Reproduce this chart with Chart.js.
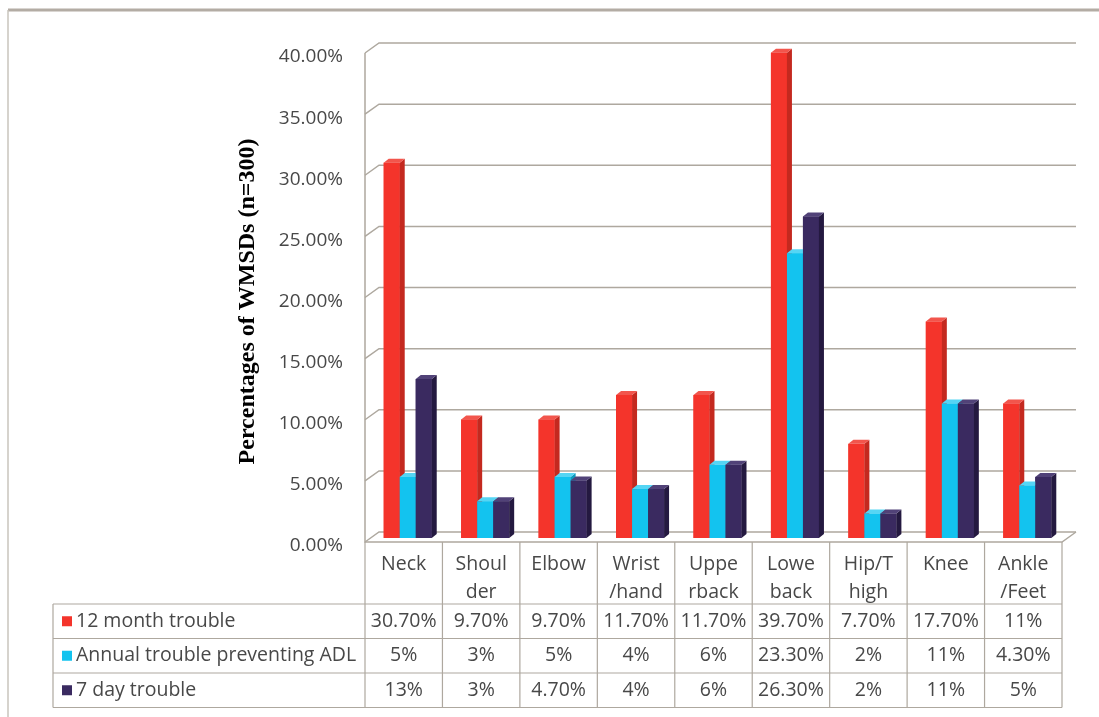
<!DOCTYPE html>
<html>
<head>
<meta charset="utf-8">
<script src="https://cdn.jsdelivr.net/npm/chart.js@4.4.1/dist/chart.umd.min.js"></script>
<style>
    html, body { margin: 0; padding: 0; background: #fff; }
    #caixa { width: 1099px; height: 717px; }
</style>
</head>
<body>
<div id="caixa"><canvas id="grafico" width="1099" height="717"></canvas></div>
<script>
// dados
const categorias = [["Neck"], ["Shoul", "der"], ["Elbow"], ["Wrist", "/hand"], ["Uppe", "rback"], ["Lowe", "back"], ["Hip/T", "high"], ["Knee"], ["Ankle", "/Feet"]]
const mes12 = [30.7, 9.7, 9.7, 11.7, 11.7, 39.7, 7.7, 17.7, 11]
const anualADL = [5, 3, 5, 4, 6, 23.3, 2, 11, 4.3]
const dias7 = [13, 3, 4.7, 4, 6, 26.3, 2, 11, 5]
const nomesSeries = ["12 month trouble", "Annual trouble preventing ADL", "7 day trouble"]
const ticksY = [0, 5, 10, 15, 20, 25, 30, 35, 40]

const cores = [
    { frente: '#f4342b', lado: '#c4291f', topo: '#f2554c' },
    { frente: '#13c3ef', lado: '#0d98bd', topo: '#55d5f4' },
    { frente: '#3a2a60', lado: '#241940', topo: '#514278' }
]
const corTexto = '#484848'
const corGrade = '#aea89f'
const fonteTexto = '19.5px "Open Sans"'

// deslocamento do efeito 3D
const fundoDx = 14, fundoDy = -10
const barraDx = 4, barraDy = -8
const ladoDx = 5, ladoDy = -4

function formataValor(v) {
    return Number.isInteger(v) ? v + '%' : v.toFixed(2) + '%'
}

function frenteY(escala, v) {
    return escala.getPixelForValue(v) - 4
}

const fundo3d = {
    id: 'fundo3d',
    beforeDraw(chart) {
        const ctx = chart.ctx
        const area = chart.chartArea
        const y = chart.scales.y
        ctx.save()
        // moldura da figura
        ctx.strokeStyle = '#b3aca4'
        ctx.lineWidth = 3
        ctx.beginPath()
        ctx.moveTo(8, 10)
        ctx.lineTo(1099, 10)
        ctx.stroke()
        ctx.strokeStyle = '#c9c4bc'
        ctx.lineWidth = 1.5
        ctx.beginPath()
        ctx.moveTo(8, 10)
        ctx.lineTo(8, 717)
        ctx.stroke()

        ctx.strokeStyle = corGrade
        ctx.lineWidth = 1.5
        ticksY.forEach((v) => {
            const yf = frenteY(y, v)
            ctx.beginPath()
            ctx.moveTo(area.left, yf)
            ctx.lineTo(area.left + fundoDx, yf + fundoDy)
            ctx.lineTo(area.right + fundoDx, yf + fundoDy)
            ctx.stroke()
        })
        // parede esquerda e piso
        const y0 = frenteY(y, 0)
        ctx.beginPath()
        ctx.moveTo(area.left, frenteY(y, 40))
        ctx.lineTo(area.left, y0)
        ctx.lineTo(area.right, y0)
        ctx.lineTo(area.right + fundoDx, y0 + fundoDy)
        ctx.stroke()
        ctx.restore()
    },
    beforeDatasetsDraw(chart) {
        chart.ctx.save()
        chart.ctx.translate(barraDx, barraDy)
    },
    afterDatasetsDraw(chart) {
        const ctx = chart.ctx
        chart.data.datasets.forEach((ds, d) => {
            const meta = chart.getDatasetMeta(d)
            const c = cores[d]
            meta.data.forEach((el) => {
                const p = el.getProps(['x', 'y', 'base', 'width'], true)
                const esq = p.x - p.width / 2
                const dir = p.x + p.width / 2
                ctx.fillStyle = c.frente
                ctx.fillRect(esq, p.y, p.width, p.base - p.y)
                ctx.fillStyle = c.lado
                ctx.beginPath()
                ctx.moveTo(dir, p.y)
                ctx.lineTo(dir + ladoDx, p.y + ladoDy)
                ctx.lineTo(dir + ladoDx, p.base + ladoDy)
                ctx.lineTo(dir, p.base)
                ctx.closePath()
                ctx.fill()
                ctx.fillStyle = c.topo
                ctx.beginPath()
                ctx.moveTo(esq, p.y)
                ctx.lineTo(dir, p.y)
                ctx.lineTo(dir + ladoDx, p.y + ladoDy)
                ctx.lineTo(esq + ladoDx, p.y + ladoDy)
                ctx.closePath()
                ctx.fill()
            })
        })
        ctx.restore()
    },
    afterDraw(chart) {
        // tabela de dados embaixo do grafico
        const ctx = chart.ctx
        const area = chart.chartArea
        const x = chart.scales.x
        const y = chart.scales.y
        const larg = (area.right - area.left) / categorias.length
        const topo = frenteY(y, 0)
        const linhas = [604, 638.5, 673, 707.5]
        const tabEsq = 53
        const series = [mes12, anualADL, dias7]

        ctx.save()
        ctx.strokeStyle = corGrade
        ctx.lineWidth = 1.2
        ctx.beginPath()
        for (let i = 0; i <= categorias.length; i++) {
            const xl = area.left + i * larg
            ctx.moveTo(xl, topo)
            ctx.lineTo(xl, linhas[3])
        }
        linhas.forEach((yl) => {
            ctx.moveTo(tabEsq, yl)
            ctx.lineTo(area.right, yl)
        })
        ctx.moveTo(tabEsq, linhas[0])
        ctx.lineTo(tabEsq, linhas[3])
        ctx.stroke()

        ctx.fillStyle = corTexto
        ctx.font = fonteTexto
        ctx.textAlign = 'center'
        ctx.textBaseline = 'middle'
        categorias.forEach((cat, i) => {
            const cx = x.getPixelForValue(i)
            cat.forEach((linha, k) => {
                ctx.fillText(linha, cx, 564 + k * 28)
            })
            series.forEach((s, r) => {
                ctx.fillText(formataValor(s[i]), cx, (linhas[r] + linhas[r + 1]) / 2)
            })
        })
        ctx.textAlign = 'left'
        nomesSeries.forEach((nome, r) => {
            const cy = (linhas[r] + linhas[r + 1]) / 2
            ctx.fillStyle = cores[r].frente
            ctx.fillRect(62, cy - 5, 10, 10)
            ctx.fillStyle = corTexto
            ctx.fillText(nome, 76, cy)
        })
        ctx.restore()
    }
}

const grafico = new Chart(document.getElementById('grafico'), {
    type: 'bar',
    data: {
        labels: categorias,
        datasets: [
            { label: nomesSeries[0], data: mes12, backgroundColor: cores[0].frente },
            { label: nomesSeries[1], data: anualADL, backgroundColor: cores[1].frente },
            { label: nomesSeries[2], data: dias7, backgroundColor: cores[2].frente }
        ]
    },
    options: {
        responsive: false,
        animation: false,
        devicePixelRatio: 1,
        layout: { padding: { left: 230, right: 37, top: 57, bottom: 171 } },
        datasets: { bar: { categoryPercentage: 0.62, barPercentage: 1, borderWidth: 0, clip: false } },
        plugins: { legend: { display: false }, tooltip: { enabled: false } },
        scales: {
            x: { display: false, grid: { display: false } },
            y: {
                min: 0,
                max: 40,
                afterFit: (escala) => { escala.width = 135 },
                border: { display: false },
                grid: { display: false, drawTicks: false },
                ticks: {
                    stepSize: 5,
                    padding: 22,
                    color: corTexto,
                    font: { family: 'Open Sans', size: 19 },
                    callback: (v) => v.toFixed(2) + '%'
                },
                title: {
                    display: true,
                    text: 'Percentages of WMSDs (n=300)',
                    color: '#000',
                    font: { family: 'Liberation Serif', size: 24, weight: 'bold' },
                    padding: { top: 3, bottom: 0 }
                }
            }
        }
    },
    plugins: [fundo3d]
})
</script>
</body>
</html>
